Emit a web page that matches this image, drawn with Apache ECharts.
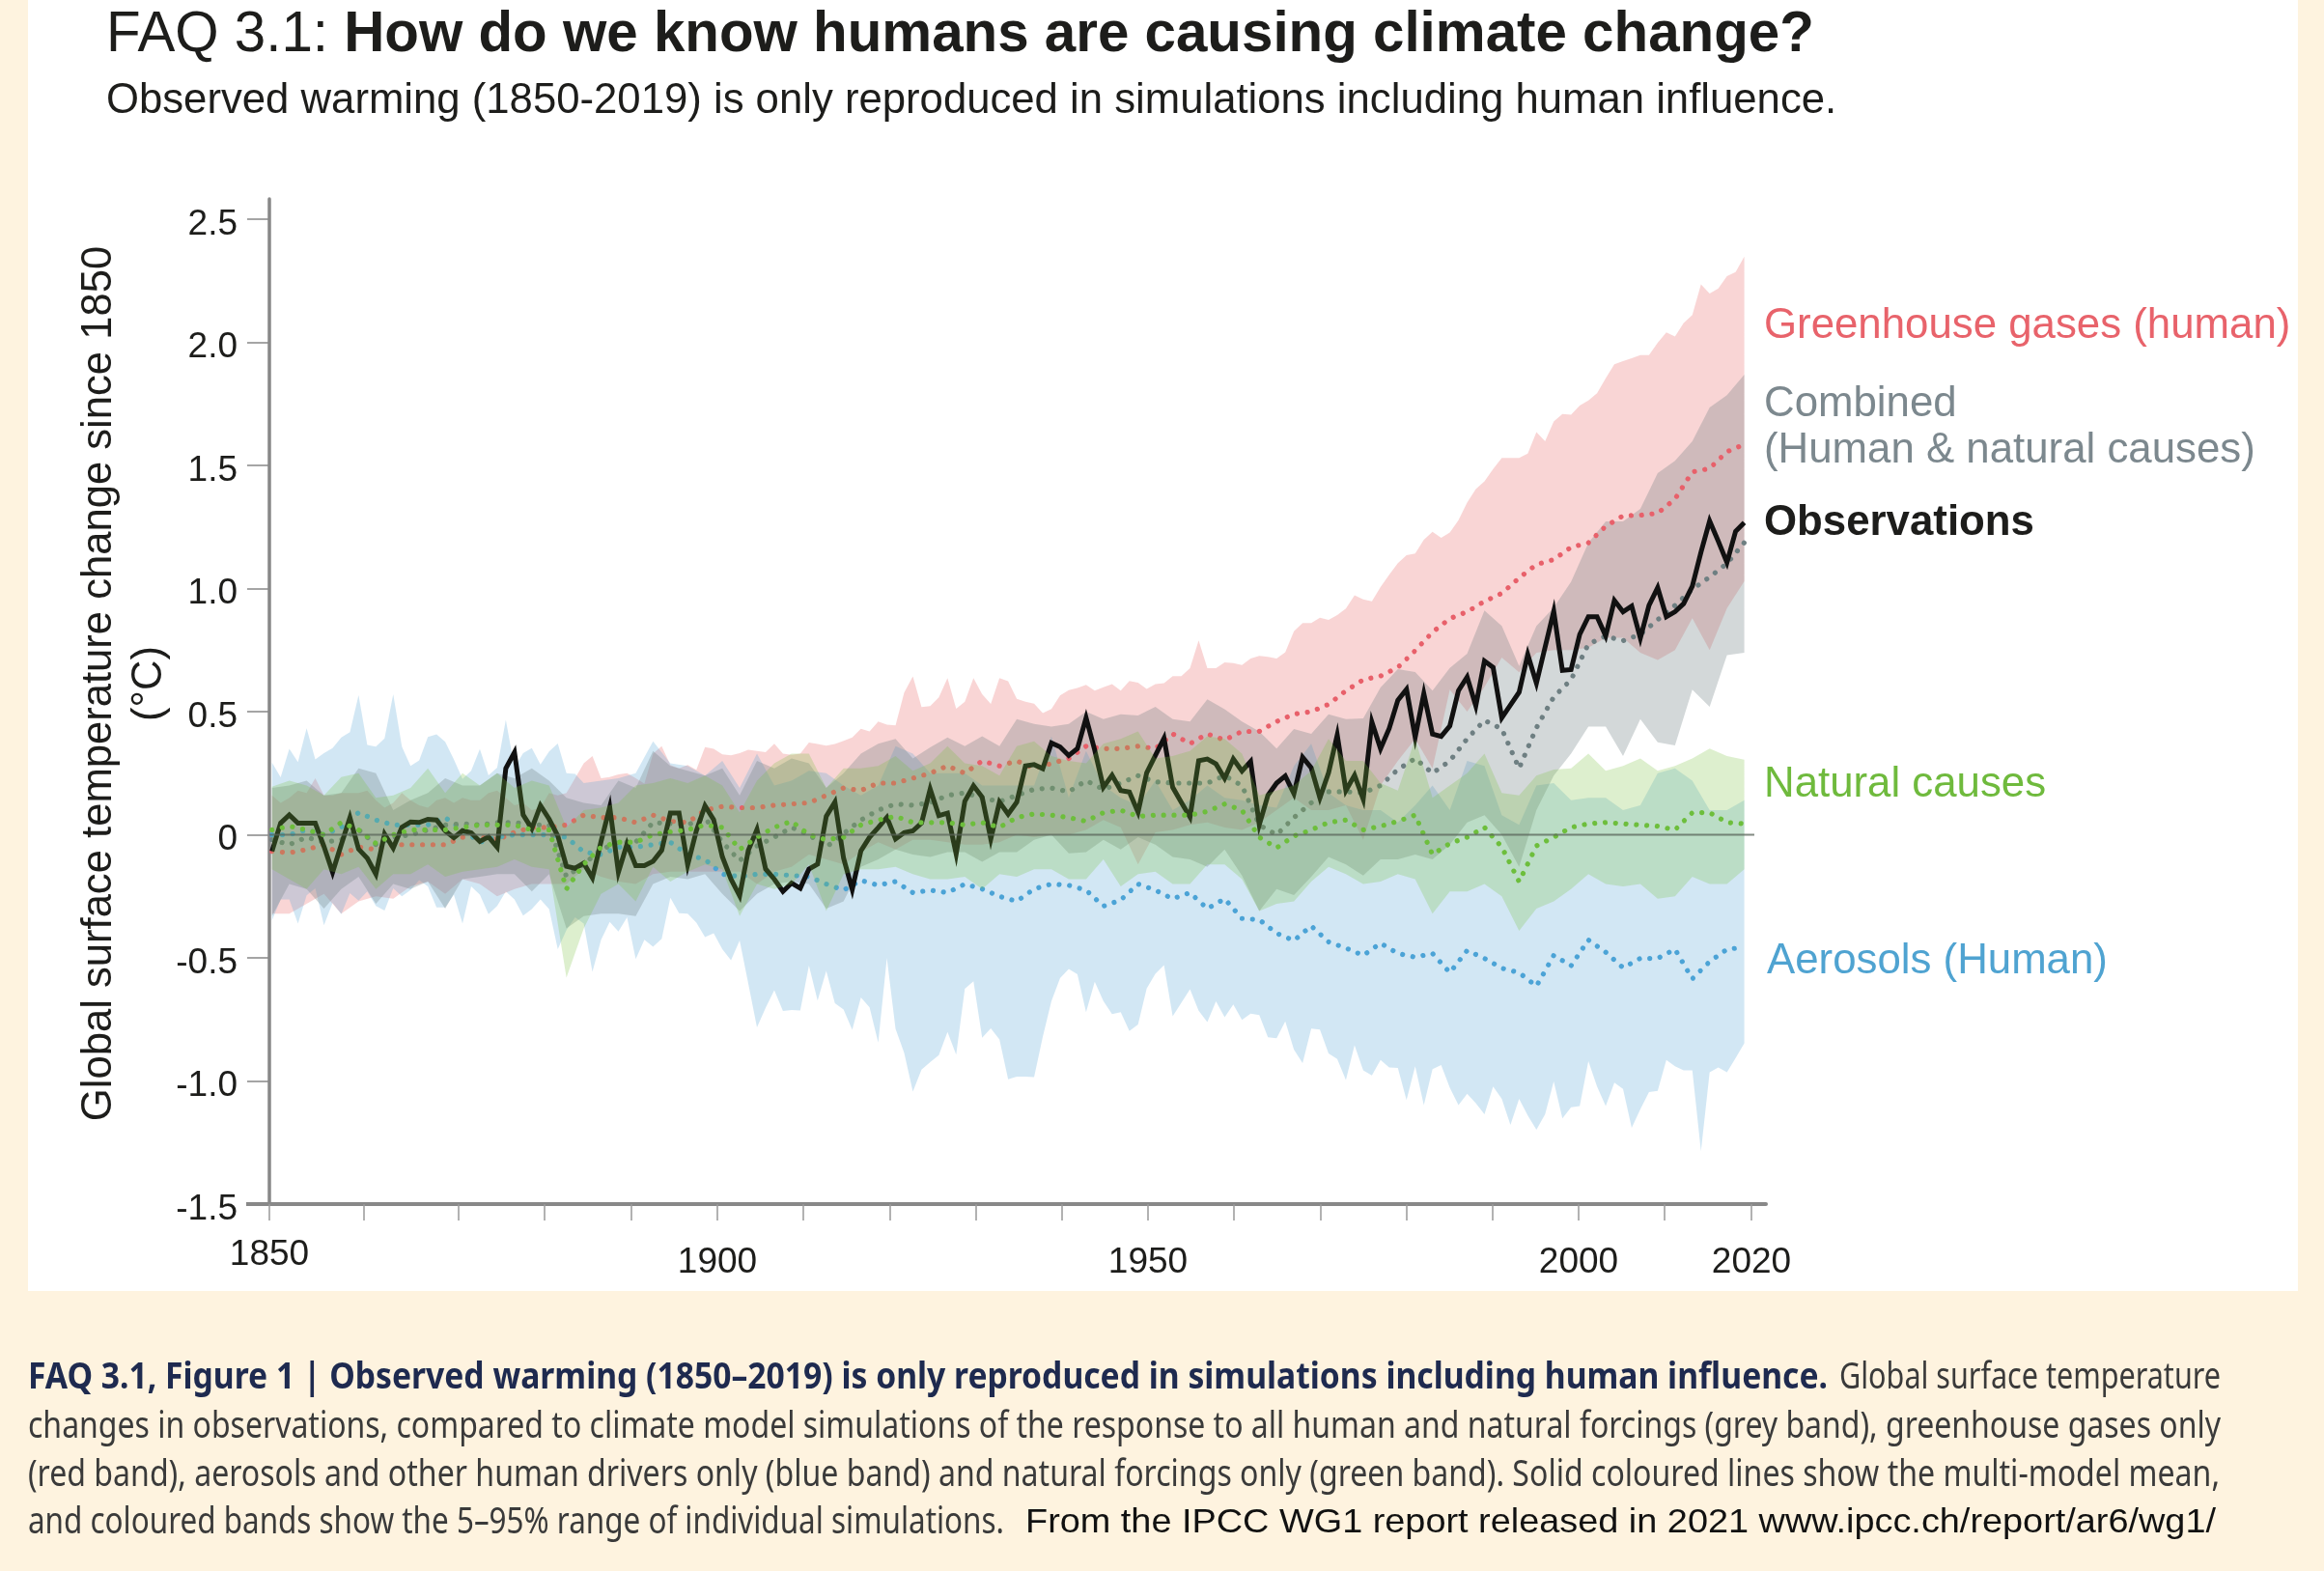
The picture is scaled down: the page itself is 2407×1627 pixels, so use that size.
<!DOCTYPE html>
<html>
<head>
<meta charset="utf-8">
<title>FAQ 3.1</title>
<script src="https://cdn.jsdelivr.net/npm/echarts@6/dist/echarts.min.js"></script>
<style>
  html, body { margin: 0; padding: 0; background: #fef3df; }
  #main { width: 2407px; height: 1627px; }
</style>
</head>
<body>
<div id="main"></div>
<script>
// observations, one value per year 1850-2020
const observations = [
  -.067, .048, .081, .047, .047, .047, -.047, -.152, -.04, .07,
  -.058, -.095, -.16, .003, -.054, .031, .052, .05, .063, .06,
  .016, -.012, .017, .008, -.027, -.008, -.05, .27, .335, .081,
  .025, .119, .064, -.004, -.128, -.136, -.115, -.175, -.027, .112,
  -.152, -.037, -.125, -.125, -.108, -.063, .088, .088, -.122, .016,
  .118, .061, -.089, -.18, -.248, -.063, .022, -.139, -.18, -.23,
  -.196, -.217, -.139, -.119, .075, .133, -.095, -.222, -.065, -.01,
  .029, .071, -.017, .009, .016, .048, .186, .078, .088, -.078,
  .136, .199, .153, -.017, .133, .084, .133, .28, .285, .269,
  .373, .357, .322, .35, .475, .344, .193, .242, .18, .174,
  .092, .252, .322, .392, .193, .132, .072, .301, .308, .288,
  .229, .308, .259, .298, .041, .161, .21, .239, .167, .315,
  .272, .15, .252, .405, .18, .242, .145, .458, .35, .432,
  .547, .591, .396, .573, .409, .4, .442, .586, .641, .524,
  .706, .68, .475, .527, .579, .732, .616, .762, .908, .668,
  .671, .814, .886, .886, .808, .952, .906, .929, .799, .932,
  1.004, .886, .906, .939, 1.01, 1.148, 1.275, 1.193, 1.106, 1.233,
  1.268
]

// upper edge of the greenhouse gas band and lower edge of the aerosol band, yearly
const redHigh = [
  .16, .13, .15, .18, .17, .23, .16, .16, .17, .17,
  .17, .18, .14, .11, .13, .17, .14, .12, .11, .14,
  .15, .13, .15, .14, .14, .17, .18, .15, .12, .13,
  .1, .11, .17, .16, .17, .23, .29, .32, .23, .235,
  .245, .25, .23, .208, .33, .36, .284, .27, .284, .264,
  .356, .349, .327, .323, .332, .345, .34, .336, .37, .33,
  .325, .33, .375, .369, .362, .369, .382, .395, .431, .42,
  .46, .447, .444, .578, .643, .519, .523, .558, .637, .512,
  .541, .637, .571, .532, .637, .624, .552, .541, .533, .494,
  .511, .566, .588, .596, .609, .586, .599, .612, .586, .625,
  .618, .592, .612, .616, .644, .644, .677, .79, .677, .677,
  .7, .697, .69, .716, .727, .723, .716, .742, .827, .86,
  .86, .882, .873, .893, .919, .973, .956, .948, 1.006, 1.056,
  1.103, 1.136, 1.143, 1.198, 1.231, 1.206, 1.228, 1.278, 1.349, 1.404,
  1.436, 1.486, 1.531, 1.531, 1.531, 1.549, 1.636, 1.599, 1.679, 1.709,
  1.706, 1.744, 1.764, 1.794, 1.854, 1.911, 1.924, 1.936, 1.949, 1.949,
  1.999, 2.041, 2.024, 2.079, 2.111, 2.236, 2.199, 2.219, 2.269, 2.286,
  2.349
]
const blueLow = [
  -.348, -.263, -.263, -.361, -.246, -.217, -.367, -.276, -.322, -.237,
  -.267, -.23, -.289, -.308, -.217, -.25, -.224, -.184, -.21, -.295,
  -.295, -.243, -.361, -.21, -.243, -.322, -.289, -.23, -.263, -.328,
  -.302, -.263, -.302, -.465, -.387, -.335, -.361, -.557, -.426, -.354,
  -.393, -.335, -.505, -.426, -.455, -.422, -.256, -.318, -.32, -.357,
  -.416, -.4, -.465, -.51, -.429, -.605, -.782, -.703, -.631, -.716,
  -.712, -.714, -.531, -.673, -.553, -.684, -.71, -.792, -.661, -.701,
  -.844, -.501, -.788, -.886, -1.043, -.954, -.923, -.895, -.801, -.893,
  -.625, -.595, -.824, -.786, -.831, -.993, -.982, -.982, -.984, -.82,
  -.675, -.582, -.545, -.567, -.72, -.597, -.675, -.728, -.72, -.797,
  -.77, -.624, -.565, -.529, -.737, -.682, -.627, -.715, -.761, -.676,
  -.741, -.689, -.752, -.726, -.732, -.822, -.826, -.758, -.872, -.927,
  -.787, -.791, -.888, -.911, -.996, -.855, -.957, -.977, -.915, -.945,
  -.947, -1.077, -.94, -1.098, -.952, -.935, -1.027, -1.098, -1.052, -1.09,
  -1.135, -1.022, -1.072, -1.178, -1.072, -1.14, -1.198, -1.135, -1.002, -1.152,
  -1.107, -1.102, -.92, -1.022, -1.102, -1.007, -1.032, -1.19, -1.115, -1.045,
  -1.04, -.915, -.94, -.957, -.957, -1.285, -.965, -.945, -.965, -.907,
  -.847
]

// top edge of the aerosol band: yearly to 1885, then every second year
const blueHighEarly = [
  .293, .234, .349, .295, .433, .306, .332, .352, .395, .417,
  .567, .365, .358, .391, .571, .358, .28, .302, .397, .408,
  .378, .306, .227, .26, .348, .241, .273, .467, .273, .332,
  .352, .286, .339, .371, .25, .247
]
const blueHighLate = [
  .21, .22, .23, .25,
  .38, .29, .28, .24, .3, .19, .33, .2, .22, .26, .25, .2, .16, .2, .36, .33, .25, .25, .25, .2, .2, .2,
  .2, .4, .15, .34, .2, .15, .12, .22, .1, .14, .2, .15, .14, .12, .11, .28, .37, .17, .12, .1, .1, .05,
  .12, .2, .1, .3, .28, .08, .04, .2, .21, .14, .15, .15, .1, .12, .25, .27, .22, .1, .1, .14
]

// the rest every second year, 1850-2020
const redLow = [
  -.32, -.32, -.28, -.24, -.32, -.27, -.25, -.26, -.21, -.19, -.24, -.18, -.2, -.25, -.22, -.2, -.2, -.2, -.14, -.17, -.19, -.2,
  -.16, -.15, -.15, -.15, -.15, -.15, -.2, -.15, -.13, -.08, -.1, -.12, -.07, -.03, -.06, -.02, -.02, -.03, -.04, -.04, -.03, 0,
  -.01, 0, 0, .02, .06, .03, -.12, .01, .02, .04, .05, .03, .02, .05, .1, .15, .1, .1, .12, -.02, .2, .3,
  .39, .27, .59, .5, .6, .72, .66, .74, .75, .75, .76, .8, .8, .74, .71, .75, .88, .75, .92, 1.03
]
const greyHigh = [
  .19, .2, .22, .16, .17, .27, .25, .1, .14, .17, .23, .2, .2, .25, .23, .27, .22, .15, .13, .12, .22, .19,
  .34, .28, .26, .24, .27, .16, .3, .27, .31, .29, .19, .25, .33, .37, .39, .31, .355, .395, .36, .4, .36, .47,
  .45, .44, .45, .5, .47, .49, .485, .52, .47, .46, .55, .51, .46, .42, .35, .43, .41, .49, .47, .473, .598, .673,
  .661, .586, .678, .736, .911, .848, .686, .848, .923, 1.028, 1.186, 1.273, 1.273, 1.324, 1.469, 1.519, 1.599, 1.736, 1.786, 1.869
]
const greyLow = [
  -.33, -.2, -.22, -.3, -.22, -.17, -.28, -.2, -.22, -.19, -.3, -.18, -.17, -.16, -.16, -.23, -.16, -.38, -.33, -.32, -.32, -.33,
  -.2, -.17, -.18, -.16, -.24, -.31, -.24, -.2, -.19, -.2, -.3, -.27, -.13, -.1, -.06, -.08, -.09, -.07, -.07, -.11, -.07, -.07,
  -.02, 0, -.075, -.07, -.02, -.06, -.01, -.04, -.09, -.1, -.13, -.06, -.165, -.31, -.22, -.245, -.17, -.09, -.12, -.165, -.1, -.1,
  -.08, -.1, -.04, .05, .08, 0, -.13, .1, .24, .33, .44, .44, .32, .47, .376, .363, .59, .52, .73, .74
]
const greenHigh = [
  .195, .22, .2, .16, .235, .25, .15, .16, .19, .27, .17, .25, .2, .25, .19, .22, .2, .03, .1, .11, .13, .2,
  .21, .23, .21, .24, .2, .09, .22, .29, .33, .33, .19, .27, .27, .28, .32, .26, .29, .36, .29, .28, .24, .36,
  .38, .32, .3, .29, .37, .39, .42, .31, .32, .34, .4, .39, .33, .16, .18, .2, .26, .39, .3, .3, .21, .18,
  .39, .15, .2, .25, .33, .17, .16, .24, .265, .27, .33, .26, .28, .31, .26, .28, .31, .35, .32, .305
]
const greenLow = [
  -.14, -.18, -.22, -.14, -.16, -.13, -.22, -.16, -.16, -.12, -.17, -.15, -.14, -.13, -.1, -.13, -.14, -.58, -.38, -.24, -.2, -.27,
  -.13, -.19, -.15, -.12, -.14, -.33, -.2, -.22, -.2, -.12, -.31, -.16, -.14, -.14, -.13, -.16, -.18, -.18, -.17, -.22, -.16, -.17,
  -.14, -.14, -.18, -.18, -.1, -.21, -.16, -.15, -.2, -.2, -.12, -.12, -.18, -.31, -.28, -.27, -.19, -.13, -.16, -.2, -.19, -.16,
  -.18, -.32, -.23, -.23, -.2, -.25, -.39, -.3, -.27, -.22, -.16, -.2, -.21, -.2, -.26, -.25, -.17, -.2, -.2, -.14
]

// multi-model means, every second year 1850-2020
const redMean = [
  -.067, -.073, -.06, -.04, -.08, -.05, -.06, -.04, -.04, -.04, -.04, -.01, -.01, -.02, .01, .03, .03, .04, .08, .07, .07, .05,
  .08, .055, .05, .1, .115, .11, .11, .12, .125, .13, .16, .19, .18, .21, .21, .23, .25, .28, .25, .3, .28, .3,
  .27, .29, .31, .36, .35, .35, .36, .35, .41, .37, .41, .385, .42, .42, .46, .49, .5, .53, .585, .63, .645, .68,
  .748, .823, .878, .906, .948, .981, 1.043, 1.098, 1.118, 1.168, 1.186, 1.253, 1.296, 1.298, 1.306, 1.364, 1.474, 1.488, 1.556, 1.586
]
const greyMean = [
  -.02, -.04, -.01, -.03, -.02, .02, -.04, -.01, 0, .02, .04, .045, .04, .05, .05, .04, .04, -.17, -.12, -.06, -.03, -.03,
  .05, .045, .04, .07, -.03, -.105, -.045, -.01, .03, 0, -.05, .005, .06, .1, .125, .12, .13, .16, .17, .15, .135, .16,
  .185, .19, .175, .22, .185, .21, .24, .215, .21, .21, .21, .24, .2, .04, 0, .07, .13, .175, .175, .17, .2, .265,
  .31, .25, .3, .39, .465, .43, .27, .435, .56, .63, .775, .807, .788, .814, .873, .932, .997, 1.047, 1.102, 1.187
]
const greenMean = [
  .02, .035, .02, 0, .05, .02, -.035, 0, .02, .02, .02, .03, .04, .04, .04, .02, .02, -.22, -.12, -.05, -.03, -.03,
  0, .012, .02, .04, .03, -.06, -.01, .03, .055, 0, -.02, -.01, .04, .06, .075, .05, .05, .05, .04, .05, .03, .07,
  .085, .08, .07, .055, .09, .1, .075, .08, .08, .08, .095, .125, .1, -.01, -.053, -.005, .02, .05, .06, .02, .035, .055,
  .08, -.08, -.035, -.01, .03, -.05, -.19, -.045, -.01, .03, .045, .05, .045, .04, .035, .02, .09, .09, .05, .045
]
const blueMean = [
  0, 0, .02, 0, .03, .09, .06, .04, .04, .04, .07, .02, -.03, -.01, 0, 0, 0, -.01, -.07, -.08, -.05, -.05,
  -.04, -.03, -.08, -.1, -.16, -.17, -.16, -.16, -.165, -.17, -.2, -.225, -.185, -.205, -.19, -.235, -.225, -.235, -.2, -.22, -.25, -.27,
  -.22, -.2, -.205, -.225, -.29, -.265, -.2, -.225, -.26, -.235, -.3, -.26, -.34, -.345, -.4, -.43, -.37, -.435, -.46, -.49, -.44, -.482,
  -.497, -.482, -.56, -.47, -.502, -.542, -.56, -.615, -.49, -.532, -.427, -.477, -.54, -.502, -.502, -.465, -.585, -.515, -.465, -.457
]

// axis ticks. the printed decade ticks do not sit quite on the data's year scale,
// so xTickAt holds where each one falls on that scale
const yTicks = [-1.5, -1, -.5, 0, .5, 1, 1.5, 2, 2.5]
const xTickLabels = ['1850', '', '', '', '', '1900', '', '', '', '', '1950', '', '', '', '', '2000', '', '2020']
const xTickAt = [
  1849.7, 1860.57, 1871.5, 1881.47, 1891.5, 1901.43, 1911.35, 1921.33, 1931.25,
  1941.17, 1951.15, 1961.07, 1971.1, 1981.03, 1990.95, 2000.87, 2010.79, 2020.83
]

const annualYears = observations.map((_, i) => 1850 + i)
const evenYears = redLow.map((_, i) => 1850 + i * 2)
const blueHighYears = blueHighEarly.map((_, i) => 1850 + i).concat(blueHighLate.map((_, i) => 1886 + i * 2))
const blueHigh = blueHighEarly.concat(blueHighLate)

const zip = (years, values) => years.map((y, i) => [y, values[i]])

const bandSeries = (name, z, color, top, bottom) => ({
  name,
  type: 'custom',
  z,
  silent: true,
  clip: true,
  coordinateSystem: 'cartesian2d',
  data: [[1850, 0]],
  renderItem: (params, api) => ({
    type: 'polygon',
    shape: { points: top.concat(bottom.slice().reverse()).map(p => api.coord(p)) },
    style: { fill: color }
  })
})

const meanSeries = (name, z, color, values) => ({
  name,
  type: 'line',
  z,
  silent: true,
  symbol: 'none',
  data: zip(evenYears, values),
  lineStyle: { color, width: 5.2, type: [0.01, 10.8], cap: 'round' }
})

// caption lines are set in a condensed face in the original: squeeze to the measured width
const measure = document.createElement('canvas').getContext('2d')
const fitted = (text, x, y, width, font, fill) => {
  measure.font = font
  return {
    type: 'text',
    x,
    y,
    scaleX: width / measure.measureText(text).width,
    style: { text, font, fill, verticalAlign: 'middle' }
  }
}

const label = (text, x, y, fill, weight) => ({
  type: 'text',
  x,
  y,
  style: {
    text,
    fill,
    verticalAlign: 'middle',
    font: (weight || 'normal') + ' 43.8px "Liberation Sans"'
  }
})

const axisTitle = (text, x) => ({
  type: 'text',
  x,
  y: 708,
  rotation: Math.PI / 2,
  style: {
    text,
    font: '43.6px "Liberation Sans"',
    fill: '#1d1d1b',
    align: 'center',
    verticalAlign: 'middle'
  }
})

const capFont = '38px "Noto Sans"'
const capBold = 'bold 38px "Noto Sans"'
const capColor = '#3a3a3a'

const option = {
  animation: false,
  backgroundColor: '#fef3df',
  textStyle: { fontFamily: '"Liberation Sans"', color: '#1d1d1b' },
  title: {
    left: 110,
    top: 8,
    padding: 0,
    itemGap: 17,
    text: '{a|FAQ 3.1: }{b|How do we know humans are causing climate change?}',
    textStyle: {
      rich: {
        a: { fontSize: 58.3, fontWeight: 'normal', color: '#1d1d1b', fontFamily: '"Liberation Sans"' },
        b: { fontSize: 58.3, fontWeight: 'bold', color: '#1d1d1b', fontFamily: '"Liberation Sans"' }
      }
    },
    subtext: 'Observed warming (1850-2019) is only reproduced in simulations including human influence.',
    subtextStyle: { fontSize: 43.7, color: '#1d1d1b', fontFamily: '"Liberation Sans"' }
  },
  grid: { left: 279, top: 206, width: 1550, height: 1041 },
  xAxis: {
    type: 'value',
    min: 1849.7,
    max: 2022.5,
    splitLine: { show: false },
    axisLine: { onZero: false, lineStyle: { color: '#888', width: 4 } },
    axisTick: {
      customValues: xTickAt,
      length: 17,
      lineStyle: { color: '#999', width: 1.5 }
    },
    axisLabel: {
      customValues: xTickAt.filter((_, i) => xTickLabels[i]),
      margin: 34,
      formatter: v => {
        const text = xTickLabels[xTickAt.indexOf(v)]
        return text === '1850' ? '{up|' + text + '}' : '{down|' + text + '}'
      },
      rich: {
        up: { fontSize: 37, color: '#1d1d1b' },
        down: { fontSize: 37, color: '#1d1d1b', padding: [8, 0, 0, 0] }
      }
    }
  },
  yAxis: {
    type: 'value',
    min: -1.5,
    max: 2.583,
    splitLine: { show: false },
    axisLine: { onZero: false, lineStyle: { color: '#888', width: 3.5 } },
    axisTick: {
      customValues: yTicks,
      length: 23,
      lineStyle: { color: '#888', width: 1.5 }
    },
    axisLabel: {
      customValues: yTicks,
      margin: 33,
      formatter: v => '{v|' + (v === 0 ? '0' : v.toFixed(1)) + '}',
      rich: {
        v: { fontSize: 37, color: '#1d1d1b', padding: [11, 0, 0, 0] }
      }
    }
  },
  graphic: [
    { type: 'rect', z: -10, shape: { x: 29, y: 0, width: 2351, height: 1337 }, style: { fill: '#fff' } },
    // the -1.5 tick runs on as a stub of the thick base line
    { type: 'line', shape: { x1: 255, y1: 1247, x2: 279, y2: 1247 }, style: { stroke: '#888', lineWidth: 4 } },
    axisTitle('Global surface temperature change since 1850', 103),
    axisTitle('(°C)', 155),
    label('Greenhouse gases (human)', 1827, 338, '#e8636b'),
    label('Combined', 1827, 419, '#7c888e'),
    label('(Human & natural causes)', 1827, 467, '#7c888e'),
    label('Observations', 1827, 542, '#1d1d1b', 'bold'),
    label('Natural causes', 1827, 813, '#6fba3d'),
    label('Aerosols (Human)', 1830, 996, '#4fa3d1'),
    fitted('FAQ 3.1, Figure 1 | Observed warming (1850–2019) is only reproduced in simulations including human influence.', 29, 1427, 1864, capBold, '#1e2a4f'),
    fitted('Global surface temperature', 1905, 1427, 395, capFont, capColor),
    fitted('changes in observations, compared to climate model simulations of the response to all human and natural forcings (grey band), greenhouse gases only', 29, 1478, 2271, capFont, capColor),
    fitted('(red band), aerosols and other human drivers only (blue band) and natural forcings only (green band). Solid coloured lines show the multi-model mean,', 29, 1528, 2270, capFont, capColor),
    fitted('and coloured bands show the 5–95% range of individual simulations.', 29, 1577, 1011, capFont, capColor),
    fitted('From the IPCC WG1 report released in 2021 www.ipcc.ch/report/ar6/wg1/', 1062, 1577, 1233, '35px "Liberation Sans"', '#111')
  ],
  series: [
    bandSeries('Greenhouse gases band', 1, 'rgba(232,80,80,0.24)', zip(annualYears, redHigh), zip(evenYears, redLow)),
    bandSeries('Aerosols band', 2, 'rgba(90,165,215,0.27)', zip(blueHighYears, blueHigh), zip(annualYears, blueLow)),
    bandSeries('Combined band', 3, 'rgba(110,125,130,0.3)', zip(evenYears, greyHigh), zip(evenYears, greyLow)),
    meanSeries('Greenhouse gases mean', 4, '#e8606a', redMean),
    meanSeries('Aerosols mean', 4, '#4ba3d6', blueMean),
    meanSeries('Combined mean', 4, '#6e7f82', greyMean),
    {
      name: 'Observations',
      type: 'line',
      z: 5,
      silent: true,
      symbol: 'none',
      data: zip(annualYears, observations),
      lineStyle: { color: '#111', width: 5, join: 'miter' }
    },
    bandSeries('Natural causes band', 6, 'rgba(120,190,60,0.25)', zip(evenYears, greenHigh), zip(evenYears, greenLow)),
    meanSeries('Natural causes mean', 7, '#6dbe3c', greenMean),
    {
      name: 'Zero',
      type: 'line',
      z: 8,
      silent: true,
      symbol: 'none',
      data: [[1849.7, 0], [2021.16, 0]],
      lineStyle: { color: 'rgba(90,100,90,0.75)', width: 2 }
    }
  ]
}

const chart = echarts.init(document.getElementById('main'), null, { renderer: 'canvas' })
chart.setOption(option)
</script>
</body>
</html>
